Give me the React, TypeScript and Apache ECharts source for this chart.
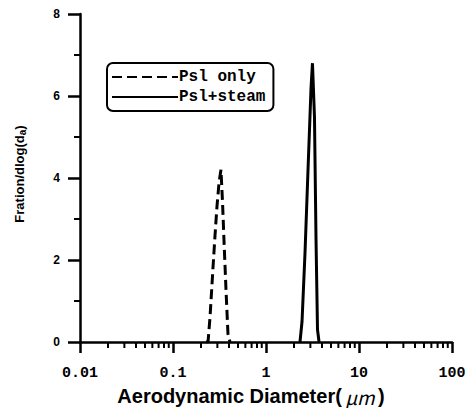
import React, { useEffect, useRef } from "react";
import * as echarts from "echarts";

const pslOnlyX = [0.226, 0.238, 0.25, 0.269, 0.283, 0.297, 0.313, 0.328, 0.341, 0.353, 0.371, 0.39, 0.41];
const pslOnlyY = [0, 0, 0.6, 1.8, 2.6, 3.3, 3.9, 4.2, 3.4, 2.5, 1.3, 0.2, 0];
const pslSteamX = [2.32, 2.44, 2.63, 2.83, 3.05, 3.16, 3.32, 3.45, 3.58, 3.72];
const pslSteamY = [0, 0.5, 2.2, 4.2, 6.2, 6.8, 5.5, 2.5, 0.3, 0];
const seriesNames = ["Psl only", "Psl+steam"];
const xTickLabels = ["0.01", "0.1", "1", "10", "100"];
const decades = [0.01, 0.1, 1, 10];
const minorMultipliers = [2, 3, 4, 5, 6, 7, 8, 9];

export default function App() {
  const ref = useRef<HTMLDivElement>(null);
  useEffect(() => {
    if (!ref.current) return;
    const chart = echarts.init(ref.current, null, { renderer: "svg" });
    const minorTicks: number[][] = [];
    decades.forEach((d) => minorMultipliers.forEach((m) => minorTicks.push([+(d * m).toPrecision(3), 0])));
    chart.setOption({
      animation: false,
      backgroundColor: "#fff",
      grid: { left: 80, right: 19, top: 14, bottom: 66, containLabel: false, outerBoundsMode: "none" },
      legend: {
        orient: "vertical",
        left: 107,
        top: 63,
        padding: [6, 8, 6, 4],
        itemGap: 4,
        itemWidth: 66,
        itemHeight: 16,
        borderColor: "#000",
        borderWidth: 2,
        borderRadius: 6,
        data: seriesNames,
        itemStyle: { opacity: 0 },
        textStyle: {
          fontFamily: "Liberation Mono",
          fontWeight: "bold",
          fontSize: 16,
          color: "#000",
          padding: [0, 0, 0, -4],
        },
      },
      xAxis: {
        type: "log",
        logBase: 10,
        min: 0.01,
        max: 100,
        axisLine: { show: true, onZero: false, lineStyle: { color: "#000", width: 2.5 } },
        axisTick: { show: true, length: 11, lineStyle: { color: "#000", width: 2.5 } },
        splitLine: { show: false },
        axisLabel: {
          margin: 24,
          color: "#000",
          fontFamily: "Liberation Mono",
          fontWeight: "bold",
          fontSize: 15,
          formatter: (v: number) => {
            const i = Math.round(Math.log10(v)) + 2;
            return xTickLabels[i] ?? "";
          },
        },
        name: "{b|Aerodynamic Diameter(} {u|μm} {b|)}",
        nameLocation: "middle",
        nameGap: 44,
        nameTextStyle: {
          padding: [0, 30, 0, 0],
          rich: {
            b: { fontFamily: "Liberation Sans", fontWeight: "bold", fontSize: 20, color: "#000" },
            u: { fontFamily: "Noto Sans CJK JP", fontStyle: "italic", fontSize: 19, color: "#000" },
          },
        },
      },
      yAxis: {
        type: "value",
        min: 0,
        max: 8,
        interval: 2,
        axisLine: { show: true, lineStyle: { color: "#000", width: 2.5 } },
        axisTick: { show: true, length: 12, lineStyle: { color: "#000", width: 2.5 } },
        minorTick: { show: true, splitNumber: 2, length: 6, lineStyle: { color: "#000", width: 2 } },
        splitLine: { show: false },
        axisLabel: {
          margin: 20,
          color: "#000",
          fontFamily: "Liberation Sans",
          fontWeight: "bold",
          fontSize: 12,
        },
        name: "{b|Fration/dlog(d}{s|a}{b|)}",
        nameLocation: "middle",
        nameGap: 53,
        nameTextStyle: {
          padding: [0, 0, 0, 8],
          rich: {
            b: { fontFamily: "Liberation Sans", fontWeight: "bold", fontSize: 13, color: "#000" },
            s: { fontFamily: "Liberation Sans", fontWeight: "bold", fontSize: 10, color: "#000", padding: [6, 0, 0, 0] },
          },
        },
      },
      series: [
        {
          name: seriesNames[0],
          type: "line",
          symbol: "none",
          data: pslOnlyX.map((x, i) => [x, pslOnlyY[i]]),
          lineStyle: { color: "#000", width: 3, type: [10, 5] },
          itemStyle: { color: "#000" },
        },
        {
          name: seriesNames[1],
          type: "line",
          symbol: "none",
          data: pslSteamX.map((x, i) => [x, pslSteamY[i]]),
          lineStyle: { color: "#000", width: 3 },
          itemStyle: { color: "#000" },
        },
        {
          type: "custom",
          silent: true,
          clip: false,
          data: minorTicks,
          renderItem: (params: any, api: any) => {
            const p = api.coord([api.value(0), 0]);
            return {
              type: "line",
              shape: { x1: p[0], y1: p[1], x2: p[0], y2: p[1] + 6 },
              style: { stroke: "#000", lineWidth: 2 },
            };
          },
          z: 5,
        },
      ],
    });
    return () => chart.dispose();
  }, []);
  return <div ref={ref} style={{ width: 471, height: 408, position: "absolute", left: 0, top: 0 }} />;
}
